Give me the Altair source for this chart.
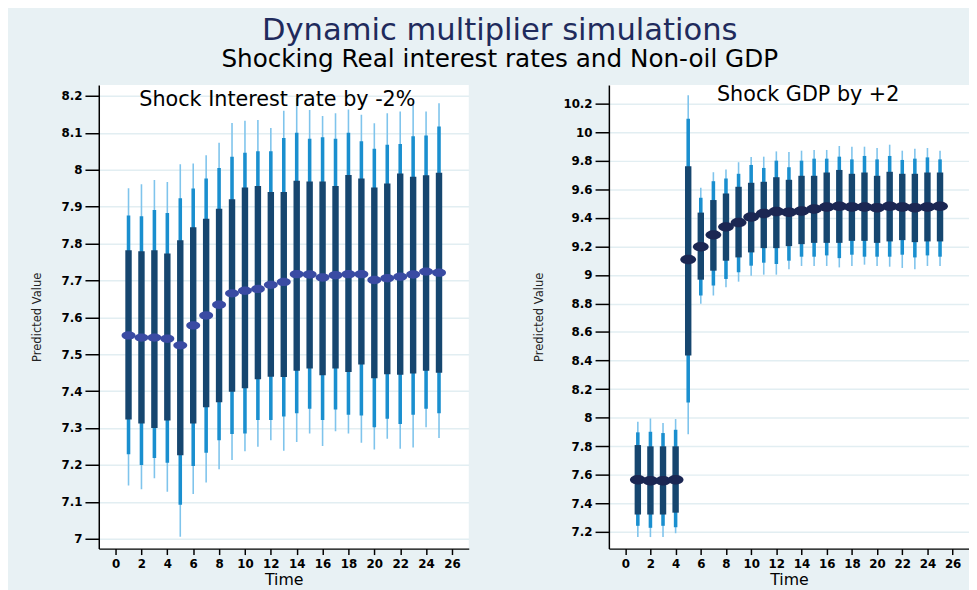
import altair as alt
import pandas as pd

# ---------------- data ----------------
time = list(range(1, 26))

# Left panel: Shock Interest rate by -2%
l_est = [7.551, 7.545, 7.545, 7.542, 7.524, 7.578, 7.605, 7.634, 7.665, 7.672,
         7.677, 7.688, 7.696, 7.717, 7.716, 7.708, 7.714, 7.717, 7.717, 7.701,
         7.706, 7.710, 7.716, 7.724, 7.721]
l_hi1 = [7.782, 7.779, 7.782, 7.773, 7.809, 7.844, 7.867, 7.894, 7.920, 7.952,
         7.956, 7.940, 7.940, 7.970, 7.968, 7.968, 7.956, 7.986, 7.976, 7.952,
         7.963, 7.990, 7.981, 7.985, 7.992]
l_lo1 = [7.323, 7.312, 7.300, 7.320, 7.226, 7.312, 7.356, 7.370, 7.398, 7.408,
         7.432, 7.439, 7.438, 7.455, 7.461, 7.443, 7.461, 7.452, 7.472, 7.435,
         7.446, 7.444, 7.448, 7.455, 7.450]
l_hi2 = [7.876, 7.874, 7.891, 7.883, 7.923, 7.949, 7.976, 8.005, 8.035, 8.046,
         8.050, 8.050, 8.086, 8.100, 8.084, 8.088, 8.084, 8.100, 8.077, 8.057,
         8.068, 8.070, 8.091, 8.093, 8.117]
l_lo2 = [7.229, 7.200, 7.219, 7.206, 7.092, 7.197, 7.233, 7.267, 7.284, 7.285,
         7.322, 7.322, 7.331, 7.340, 7.352, 7.322, 7.350, 7.336, 7.334, 7.302,
         7.325, 7.311, 7.336, 7.352, 7.340]
l_hi3 = [7.950, 7.961, 7.972, 7.967, 8.015, 8.017, 8.039, 8.073, 8.127, 8.133,
         8.135, 8.113, 8.160, 8.195, 8.162, 8.146, 8.153, 8.163, 8.149, 8.126,
         8.153, 8.158, 8.185, 8.158, 8.180]
l_lo3 = [7.144, 7.134, 7.164, 7.127, 7.005, 7.121, 7.152, 7.188, 7.213, 7.237,
         7.249, 7.267, 7.238, 7.262, 7.285, 7.251, 7.291, 7.285, 7.260, 7.242,
         7.271, 7.244, 7.247, 7.302, 7.273]

# Right panel: Shock GDP by +2
r_est = [7.565, 7.558, 7.558, 7.565, 9.109, 9.197, 9.281, 9.337, 9.367, 9.406,
         9.430, 9.444, 9.439, 9.448, 9.462, 9.476, 9.481, 9.476, 9.476, 9.471,
         9.481, 9.476, 9.471, 9.476, 9.481]
r_hi1 = [7.808, 7.799, 7.799, 7.799, 9.762, 9.437, 9.525, 9.571, 9.618, 9.646,
         9.653, 9.685, 9.667, 9.695, 9.695, 9.718, 9.736, 9.709, 9.718, 9.695,
         9.723, 9.709, 9.709, 9.718, 9.718]
r_lo1 = [7.321, 7.321, 7.321, 7.334, 8.436, 8.967, 9.030, 9.100, 9.123, 9.158,
         9.188, 9.188, 9.202, 9.216, 9.225, 9.225, 9.225, 9.239, 9.239, 9.225,
         9.235, 9.244, 9.230, 9.235, 9.235]
r_hi2 = [7.897, 7.901, 7.892, 7.915, 10.095, 9.541, 9.657, 9.676, 9.709, 9.771,
         9.750, 9.801, 9.755, 9.801, 9.815, 9.815, 9.829, 9.810, 9.834, 9.810,
         9.834, 9.806, 9.815, 9.824, 9.810]
r_lo2 = [7.242, 7.228, 7.242, 7.232, 8.106, 8.856, 8.926, 8.972, 9.019, 9.065,
         9.086, 9.077, 9.100, 9.128, 9.128, 9.137, 9.118, 9.142, 9.128, 9.128,
         9.128, 9.142, 9.123, 9.137, 9.128]
r_hi3 = [7.971, 7.994, 7.962, 7.990, 10.259, 9.611, 9.720, 9.739, 9.790, 9.827,
         9.829, 9.866, 9.862, 9.871, 9.876, 9.876, 9.904, 9.899, 9.899, 9.890,
         9.913, 9.871, 9.885, 9.890, 9.871]
r_lo3 = [7.163, 7.163, 7.163, 7.190, 7.883, 8.798, 8.856, 8.914, 8.953, 8.995,
         9.002, 9.002, 9.040, 9.063, 9.063, 9.063, 9.053, 9.063, 9.072, 9.063,
         9.058, 9.049, 9.040, 9.063, 9.063]

x_ticks = list(range(0, 27, 2))
l_yticks = [7.0, 7.1, 7.2, 7.3, 7.4, 7.5, 7.6, 7.7, 7.8, 7.9, 8.0, 8.1, 8.2]
r_yticks = [7.2, 7.4, 7.6, 7.8, 8.0, 8.2, 8.4, 8.6, 8.8, 9.0, 9.2, 9.4, 9.6,
            9.8, 10.0, 10.2]

title_main = "Dynamic multiplier simulations"
title_sub = "Shocking Real interest rates and Non-oil GDP"
l_title = "Shock Interest rate by -2%"
r_title = "Shock GDP by +2"

# ---------------- styles ----------------
C_THIN = "#7fc4ec"
C_MED = "#1a8fcf"
C_DARK = "#16466f"
C_PT_L = "#3a4ba3"
C_PT_R = "#1b2753"
FONT = "DejaVu Sans"
ELLIPSE = "M -1 0 A 1 0.6 0 1 0 1 0 A 1 0.6 0 1 0 -1 0 Z"


def panel(est, lo1, hi1, lo2, hi2, lo3, hi3, ydom, yticks, ptcol, ptsize,
          w, h, title, tx, ty):
    df = pd.DataFrame({"t": time, "est": est, "lo1": lo1, "hi1": hi1,
                       "lo2": lo2, "hi2": hi2, "lo3": lo3, "hi3": hi3})
    xaxis = alt.Axis(values=x_ticks, title="Time", grid=False,
                     tickSize=6, labelPadding=4, titlePadding=2,
                     labelFontSize=12, labelOverlap=False, labelBound=False,
                     titleFont=FONT, titleFontSize=16,
                     titleFontWeight="normal", titleColor="black")
    xscale = alt.Scale(domain=[-1.3, 27.3], nice=False, zero=False)
    ys = alt.Scale(domain=ydom, nice=False, zero=False)
    yaxis = alt.Axis(values=yticks, format="~g", title="Predicted Value",
                     grid=True, tickSize=14, labelPadding=3, titlePadding=18,
                     labelFontSize=12, labelOverlap=False, labelBound=False,
                     titleFont="Liberation Sans Narrow, DejaVu Sans Condensed, Liberation Sans",
                     titleFontSize=13, titleFontWeight="normal",
                     titleColor="#222222")

    def enc(lo, hi=None):
        e = dict(x=alt.X("t:Q", scale=xscale, axis=xaxis),
                 y=alt.Y(f"{lo}:Q", scale=ys, axis=yaxis))
        if hi:
            e["y2"] = alt.Y2(f"{hi}:Q")
        return e

    base = alt.Chart(df)
    thin = base.mark_rule(color=C_THIN, strokeWidth=1.6).encode(**enc("lo3", "hi3"))
    med = base.mark_rule(color=C_MED, strokeWidth=3.6).encode(**enc("lo2", "hi2"))
    dark = base.mark_rule(color=C_DARK, strokeWidth=6.5).encode(**enc("lo1", "hi1"))
    pts = base.mark_point(shape=ELLIPSE, filled=True, opacity=1, color=ptcol,
                          size=ptsize, strokeWidth=0).encode(**enc("est"))
    ttl = alt.Chart(pd.DataFrame({"label": [title]})).mark_text(
        font=FONT, fontSize=21, color="black", align="center",
        baseline="middle").encode(
        text="label:N", x=alt.value(tx), y=alt.value(ty))
    return alt.layer(thin, med, dark, pts, ttl).properties(width=w, height=h)


left = panel(l_est, l_lo1, l_hi1, l_lo2, l_hi2, l_lo3, l_hi3,
             [6.973, 8.23], l_yticks, C_PT_L, 200, 375, 470, l_title, 181, 15)
right = panel(r_est, r_lo1, r_hi1, r_lo2, r_hi2, r_lo3, r_hi3,
              [7.082, 10.332], r_yticks, C_PT_R, 256, 365, 470, r_title, 202, 10)

chart = alt.hconcat(left, right, spacing=64).properties(
    title=alt.TitleParams(text=title_main, subtitle=title_sub,
                          font=FONT, fontSize=31, fontWeight="normal",
                          color="#1f2b5c", subtitleFont=FONT,
                          subtitleFontSize=25, subtitleColor="black",
                          subtitlePadding=1, anchor="middle", offset=11),
    padding={"left": 22, "top": 3, "right": 0, "bottom": 0},
    background="#e8f1f4",
).configure_view(stroke=None, fill="white").configure_axis(
    domainColor="black", domainWidth=1.5, tickColor="black", tickWidth=1.5,
    labelFont=FONT, labelFontWeight="bold", labelFontSize=12,
    labelColor="black", gridColor="#e2eef2", gridWidth=1.5,
    labelOverlap=False
)

chart.save("out.html", embed_options={"renderer": "svg", "actions": False})
